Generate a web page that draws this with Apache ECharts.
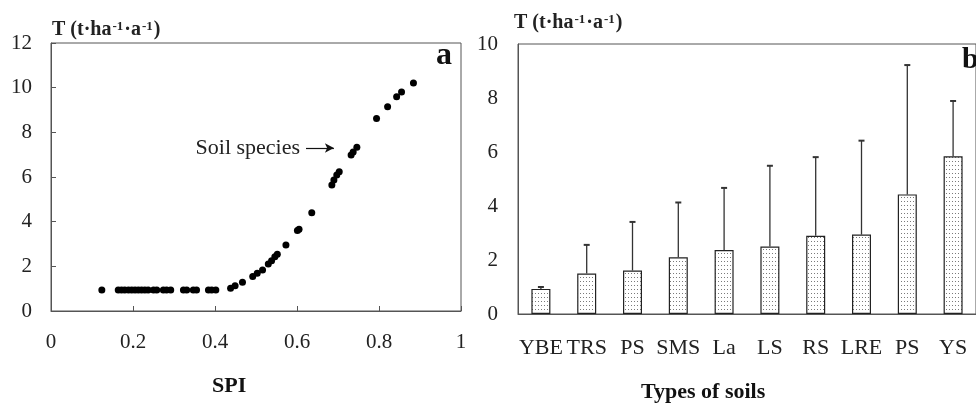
<!DOCTYPE html>
<html>
<head>
<meta charset="utf-8">
<script src="https://cdn.jsdelivr.net/npm/echarts@6/dist/echarts.min.js"></script>
<style>
  html, body { margin: 0; padding: 0; background: #fff; overflow: hidden; }
  #chart { width: 976px; height: 408px; }
</style>
</head>
<body>
<div id="chart"></div>
<script>
// panel a: SPI vs T, one dot per soil species
const spiX = [0.124, 0.164, 0.172, 0.180, 0.189, 0.197, 0.205, 0.213, 0.221, 0.229, 0.237,
  0.250, 0.258, 0.274, 0.282, 0.292, 0.323, 0.331, 0.347, 0.355, 0.384, 0.392, 0.402,
  0.438, 0.449, 0.467, 0.492, 0.503, 0.516, 0.530, 0.538, 0.546, 0.552, 0.573, 0.601,
  0.605, 0.636, 0.685, 0.690, 0.697, 0.703, 0.732, 0.737, 0.746, 0.794, 0.821, 0.843,
  0.855, 0.884]
const spiT = [0.94, 0.94, 0.94, 0.94, 0.94, 0.94, 0.94, 0.94, 0.94, 0.94, 0.94,
  0.94, 0.94, 0.94, 0.94, 0.94, 0.94, 0.94, 0.94, 0.94, 0.94, 0.94, 0.94,
  1.02, 1.13, 1.29, 1.54, 1.69, 1.84, 2.10, 2.25, 2.43, 2.54, 2.96, 3.60,
  3.66, 4.40, 5.64, 5.87, 6.09, 6.24, 6.99, 7.12, 7.33, 8.62, 9.14, 9.59,
  9.81, 10.21]
const spiTicks = ['0', '0.2', '0.4', '0.6', '0.8', '1']

// panel b: mean T and mean + sd per soil type
const soilTypes = ['YBE', 'TRS', 'PS', 'SMS', 'La', 'LS', 'RS', 'LRE', 'PS', 'YS']
const soilMean = [0.93, 1.50, 1.61, 2.10, 2.37, 2.50, 2.90, 2.94, 4.43, 5.84]
const soilUpper = [1.00, 2.56, 3.41, 4.13, 4.67, 5.49, 5.81, 6.42, 9.22, 7.89]

const serif = 'Liberation Serif'
const ink = '#222'
const axisGrey = '#555'

function dotPattern() {
  const c = document.createElement('canvas')
  c.width = 3
  c.height = 4
  const ctx = c.getContext('2d')
  ctx.fillStyle = '#fff'
  ctx.fillRect(0, 0, 3, 4)
  ctx.fillStyle = '#7a7a7a'
  ctx.fillRect(1, 1, 1, 1)
  return c
}

function unitTitle(x, y) {
  return {
    type: 'text',
    left: x,
    top: y,
    style: {
      text: '{m|T (t·ha}{s|-1}{m|·a}{s|-1}{m|)}',
      rich: {
        m: { fontFamily: serif, fontWeight: 'bold', fontSize: 20, fill: ink, verticalAlign: 'bottom' },
        s: { fontFamily: serif, fontWeight: 'bold', fontSize: 13, fill: ink, verticalAlign: 'top', padding: [0, 1, 0, 1] }
      }
    }
  }
}

const chart = echarts.init(document.getElementById('chart'))

const option = {
  backgroundColor: '#fff',
  animation: false,
  grid: [
    { left: 51, top: 43, width: 410, height: 268, show: true, borderColor: axisGrey, borderWidth: 1, backgroundColor: 'transparent' },
    { left: 518, top: 44, width: 468, height: 270, show: true, borderColor: axisGrey, borderWidth: 1, backgroundColor: 'transparent' }
  ],
  xAxis: [
    {
      gridIndex: 0,
      type: 'value',
      min: 0,
      max: 1,
      interval: 0.2,
      axisLine: { lineStyle: { color: axisGrey } },
      axisTick: { inside: true, length: 5, lineStyle: { color: axisGrey } },
      splitLine: { show: false },
      axisLabel: {
        margin: 21,
        fontFamily: serif,
        fontSize: 21,
        color: ink,
        formatter: v => spiTicks[Math.round(v * 5)]
      }
    },
    {
      gridIndex: 1,
      type: 'category',
      data: soilTypes,
      axisLine: { lineStyle: { color: axisGrey } },
      axisTick: { length: 6, lineStyle: { color: '#aaa' } },
      axisLabel: { interval: 0, margin: 23, fontFamily: serif, fontSize: 22, color: ink }
    }
  ],
  yAxis: [
    {
      gridIndex: 0,
      type: 'value',
      min: 0,
      max: 12,
      interval: 2,
      axisLine: { show: true, lineStyle: { color: axisGrey } },
      axisTick: { show: true, inside: true, length: 5, lineStyle: { color: axisGrey } },
      splitLine: { show: false },
      axisLabel: { margin: 19, fontFamily: serif, fontSize: 21, color: ink }
    },
    {
      gridIndex: 1,
      type: 'value',
      min: 0,
      max: 10,
      interval: 2,
      axisLine: { show: true, lineStyle: { color: axisGrey } },
      axisTick: { show: false },
      splitLine: { show: false },
      axisLabel: { margin: 20, fontFamily: serif, fontSize: 21, color: ink }
    }
  ],
  series: [
    {
      type: 'scatter',
      xAxisIndex: 0,
      yAxisIndex: 0,
      symbolSize: 7,
      itemStyle: { color: '#000', opacity: 1 },
      data: spiX.map((x, i) => [x, spiT[i]]),
      markLine: {
        silent: true,
        symbol: ['none', 'arrow'],
        symbolSize: [7, 9],
        lineStyle: { color: '#111', width: 1.2, type: 'solid' },
        label: {
          show: true,
          position: 'start',
          distance: 6,
          formatter: 'Soil species',
          fontFamily: serif,
          fontSize: 22,
          color: ink
        },
        data: [[{ coord: [0.622, 7.3] }, { coord: [0.69, 7.3] }]]
      }
    },
    {
      type: 'bar',
      xAxisIndex: 1,
      yAxisIndex: 1,
      barWidth: 19,
      itemStyle: {
        color: { image: dotPattern(), repeat: 'repeat' },
        borderColor: '#222',
        borderWidth: 1.2
      },
      data: soilMean,
      z: 2
    },
    {
      type: 'custom',
      xAxisIndex: 1,
      yAxisIndex: 1,
      z: 3,
      data: soilMean.map((m, i) => [i, m, soilUpper[i]]),
      renderItem: (params, api) => {
        const base = api.coord([api.value(0), api.value(1)])
        const top = api.coord([api.value(0), api.value(2)])
        const style = { stroke: '#333', lineWidth: 1.3 }
        return {
          type: 'group',
          children: [
            { type: 'line', shape: { x1: base[0], y1: base[1], x2: top[0], y2: top[1] }, style },
            { type: 'line', shape: { x1: top[0] - 3, y1: top[1], x2: top[0] + 3, y2: top[1] }, style: { stroke: '#333', lineWidth: 2 } }
          ]
        }
      }
    }
  ],
  graphic: [
    unitTitle(52, 20),
    unitTitle(514, 13),
    { type: 'text', left: 436, top: 40, style: { text: 'a', fontFamily: serif, fontWeight: 'bold', fontSize: 32, fill: '#111' } },
    { type: 'text', left: 962, top: 45, style: { text: 'b', fontFamily: serif, fontWeight: 'bold', fontSize: 30, fill: '#111' } },
    { type: 'text', left: 212, top: 375, style: { text: 'SPI', fontFamily: serif, fontWeight: 'bold', fontSize: 22, fill: '#111' } },
    { type: 'text', left: 641, top: 381, style: { text: 'Types of soils', fontFamily: serif, fontWeight: 'bold', fontSize: 22, fill: '#111' } }
  ]
}

chart.setOption(option)
</script>
</body>
</html>
